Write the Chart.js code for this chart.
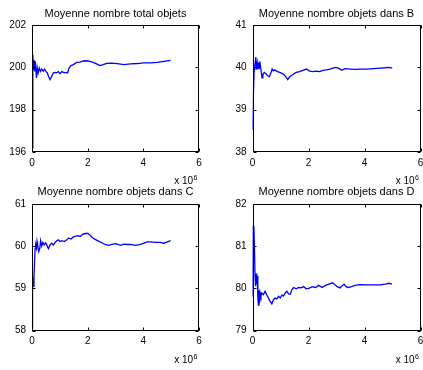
<!DOCTYPE html>
<html>
<head>
<meta charset="utf-8">
<script src="https://cdn.jsdelivr.net/npm/chart.js@4.4.0/dist/chart.umd.min.js"></script>
<style>
  html, body { margin: 0; padding: 0; background: #fff; }
  #wrap { position: relative; width: 423px; height: 370px; overflow: hidden; }
  canvas { position: absolute; }
</style>
</head>
<body>
<div id="wrap">
  <canvas id="c0" width="211" height="185" style="left:0;top:0"></canvas>
  <canvas id="c1" width="212" height="185" style="left:211px;top:0"></canvas>
  <canvas id="c2" width="211" height="191" style="left:0;top:179px"></canvas>
  <canvas id="c3" width="212" height="191" style="left:211px;top:179px"></canvas>
</div>
<script>
// x values are in units of 10^6
const xTicks = [0, 2, 4, 6];
const xMultiplier = 'x 10';
const xExponent = '6';

const titles = [
  'Moyenne nombre total objets',
  'Moyenne nombre objets dans B',
  'Moyenne nombre objets dans C',
  'Moyenne nombre objets dans D'
];

const totalX = [0, 0.03, 0.05, 0.07, 0.1, 0.12, 0.16, 0.19, 0.22, 0.26, 0.3, 0.35, 0.4, 0.45, 0.5, 0.55, 0.59, 0.65, 0.71, 0.77, 0.83, 0.89, 0.95, 1.01, 1.07, 1.13, 1.19, 1.25, 1.28, 1.33, 1.4, 1.49, 1.6, 1.72, 1.84, 1.96, 2.08, 2.2, 2.32, 2.44, 2.56, 2.68, 2.86, 3.06, 3.3, 3.54, 3.78, 4.02, 4.26, 4.5, 4.74, 4.98];
const totalY = [196.2, 200.6, 199.9, 200.36, 199.8, 200.28, 199.5, 199.97, 199.74, 199.97, 199.81, 199.92, 199.81, 199.92, 199.81, 199.74, 199.58, 199.42, 199.58, 199.74, 199.76, 199.74, 199.8, 199.7, 199.8, 199.76, 199.74, 199.76, 199.74, 199.97, 200.08, 200.13, 200.23, 200.25, 200.3, 200.31, 200.28, 200.23, 200.16, 200.08, 200.13, 200.19, 200.2, 200.18, 200.13, 200.16, 200.18, 200.21, 200.21, 200.23, 200.28, 200.33];

const bX = [0, 0.04, 0.06, 0.08, 0.12, 0.14, 0.17, 0.19, 0.22, 0.24, 0.26, 0.3, 0.34, 0.37, 0.42, 0.48, 0.54, 0.6, 0.66, 0.7, 0.74, 0.78, 0.9, 1.02, 1.12, 1.2, 1.26, 1.32, 1.44, 1.56, 1.68, 1.8, 1.92, 2.04, 2.16, 2.28, 2.4, 2.52, 2.64, 2.77, 2.95, 3.07, 3.19, 3.31, 3.49, 3.67, 3.85, 4.09, 4.33, 4.57, 4.75, 4.87, 4.99];
const bY = [38.53, 39.55, 39.95, 40.02, 40.24, 39.95, 40.1, 39.95, 40.06, 39.98, 40.14, 39.95, 39.75, 39.83, 39.88, 39.85, 39.8, 39.78, 39.87, 39.96, 39.92, 39.94, 39.9, 39.87, 39.83, 39.77, 39.71, 39.77, 39.83, 39.88, 39.9, 39.93, 39.96, 39.91, 39.9, 39.91, 39.9, 39.93, 39.94, 39.96, 40.0, 39.98, 39.93, 39.97, 39.96, 39.95, 39.96, 39.96, 39.97, 39.98, 39.99, 40.0, 39.98];

const cX = [0, 0.01, 0.03, 0.05, 0.07, 0.11, 0.13, 0.16, 0.18, 0.2, 0.24, 0.28, 0.31, 0.35, 0.39, 0.44, 0.49, 0.53, 0.59, 0.65, 0.71, 0.77, 0.83, 0.89, 0.95, 1.01, 1.07, 1.16, 1.25, 1.31, 1.41, 1.49, 1.58, 1.65, 1.73, 1.82, 1.91, 2.01, 2.09, 2.17, 2.27, 2.39, 2.51, 2.63, 2.75, 2.87, 3.01, 3.18, 3.3, 3.42, 3.54, 3.72, 3.9, 4.02, 4.14, 4.26, 4.44, 4.62, 4.74, 4.86, 4.98];
const cY = [58.06, 59.24, 59.27, 59.05, 59.24, 59.95, 60.03, 59.95, 60.11, 60.03, 59.87, 59.95, 60.13, 60.0, 60.09, 60.03, 60.08, 60.03, 59.94, 60.03, 60.07, 60.03, 60.09, 60.13, 60.15, 60.11, 60.13, 60.11, 60.15, 60.19, 60.17, 60.22, 60.24, 60.25, 60.23, 60.28, 60.3, 60.3, 60.26, 60.2, 60.16, 60.12, 60.08, 60.04, 60.02, 60.04, 60.06, 60.02, 60.05, 60.04, 60.04, 60.02, 60.04, 60.07, 60.1, 60.1, 60.09, 60.09, 60.07, 60.1, 60.13];

const dX = [0, 0.02, 0.05, 0.07, 0.09, 0.11, 0.13, 0.15, 0.17, 0.19, 0.21, 0.23, 0.25, 0.27, 0.3, 0.33, 0.39, 0.45, 0.51, 0.57, 0.63, 0.69, 0.75, 0.81, 0.87, 0.93, 0.99, 1.05, 1.11, 1.17, 1.23, 1.29, 1.35, 1.41, 1.47, 1.56, 1.65, 1.74, 1.83, 1.91, 2.01, 2.13, 2.25, 2.37, 2.49, 2.61, 2.73, 2.86, 2.95, 3.03, 3.13, 3.22, 3.27, 3.34, 3.42, 3.54, 3.66, 3.84, 4.08, 4.32, 4.56, 4.74, 4.86, 4.98];
const dY = [79.8, 81.47, 81.45, 80.95, 80.3, 80.05, 80.35, 80.1, 80.3, 79.8, 79.6, 79.95, 79.65, 79.9, 79.81, 79.89, 79.85, 79.93, 79.84, 79.77, 79.69, 79.63, 79.73, 79.77, 79.75, 79.81, 79.77, 79.84, 79.82, 79.89, 79.93, 79.87, 79.86, 79.97, 80.02, 79.99, 80.02, 80.01, 80.04, 79.99, 80.0, 80.04, 80.02, 80.07, 80.02, 80.07, 80.1, 80.13, 80.08, 80.04, 80.01, 80.07, 80.1, 80.04, 80.02, 80.04, 80.07, 80.09, 80.08, 80.08, 80.08, 80.1, 80.12, 80.1];

const yRanges = [[196, 202, 2], [38, 41, 1], [58, 61, 1], [79, 82, 1]];

const FONT = '"Liberation Sans", Arial, Helvetica, sans-serif';

// MATLAB style box: frame on all four sides, inward ticks, x 10^6 note
const boxPlugin = {
  id: 'matlabBox',
  afterDraw(chart) {
    const { ctx, chartArea: a, scales: { x, y } } = chart;
    const L = Math.round(a.left) + 0.5, R = Math.round(a.right) - 0.5;
    const T = Math.round(a.top) + 0.5, B = Math.round(a.bottom) - 0.5;
    ctx.save();
    ctx.strokeStyle = '#000';
    ctx.lineWidth = 1;
    ctx.strokeRect(L, T, R - L, B - T);
    ctx.beginPath();
    x.ticks.forEach(t => {
      const px = Math.round(x.getPixelForValue(t.value)) + 0.5;
      ctx.moveTo(px, T); ctx.lineTo(px, T + 3);
      ctx.moveTo(px, B); ctx.lineTo(px, B - 3);
    });
    y.ticks.forEach(t => {
      const py = Math.round(y.getPixelForValue(t.value)) + 0.5;
      ctx.moveTo(L, py); ctx.lineTo(L + 3, py);
      ctx.moveTo(R, py); ctx.lineTo(R - 3, py);
    });
    ctx.stroke();

    ctx.fillStyle = '#000';
    ctx.textAlign = 'right';
    ctx.textBaseline = 'alphabetic';
    ctx.font = '7px ' + FONT;
    const ew = ctx.measureText(xExponent).width;
    ctx.fillText(xExponent, a.right - 1.5, a.bottom + 28);
    ctx.font = '10px ' + FONT;
    ctx.fillText(xMultiplier, a.right - 2 - ew, a.bottom + 32);
    ctx.restore();
  }
};

function makeChart(id, idx, xs, ys, box, titleMid) {
  const canvas = document.getElementById(id);
  const w = canvas.width, h = canvas.height;
  const [yMin, yMax, yStep] = yRanges[idx];
  const lineH = 11 * 1.2;
  const padTop = titleMid - lineH / 2;
  const padBottom = box.t - padTop - lineH;
  return new Chart(canvas.getContext('2d'), {
    type: 'line',
    data: {
      datasets: [{
        data: xs.map((v, i) => ({ x: v, y: ys[i] })),
        borderColor: '#0000ff',
        borderWidth: 1.3,
        pointRadius: 0,
        tension: 0,
        fill: false
      }]
    },
    options: {
      responsive: false,
      animation: false,
      events: [],
      layout: { padding: { left: 0, right: w - box.r, top: 0, bottom: 0 } },
      plugins: {
        legend: { display: false },
        tooltip: { enabled: false },
        title: {
          display: true,
          text: titles[idx],
          fullSize: false,
          color: '#000',
          font: { family: FONT, size: 11, weight: 'normal' },
          padding: { top: padTop, bottom: padBottom }
        }
      },
      scales: {
        x: {
          type: 'linear',
          min: xTicks[0],
          max: xTicks[xTicks.length - 1],
          afterBuildTicks: s => { s.ticks = xTicks.map(v => ({ value: v })); },
          grid: { display: false, drawTicks: false },
          border: { display: false },
          ticks: { color: '#000', font: { family: FONT, size: 10 }, padding: 5, maxRotation: 0 },
          afterFit: s => { s.height = h - box.b; s.paddingLeft = 0; s.paddingRight = 0; }
        },
        y: {
          type: 'linear',
          min: yMin,
          max: yMax,
          ticks: { stepSize: yStep, color: '#000', font: { family: FONT, size: 10 }, padding: 6 },
          grid: { display: false, drawTicks: false },
          border: { display: false },
          afterFit: s => { s.width = box.l; s.paddingTop = 0; s.paddingBottom = 0; }
        }
      }
    },
    plugins: [boxPlugin]
  });
}

makeChart('c0', 0, totalX, totalY, { l: 32, r: 199, t: 25, b: 152 }, 14);
makeChart('c1', 1, bX, bY, { l: 41.5, r: 209.5, t: 25, b: 152 }, 14);
makeChart('c2', 2, cX, cY, { l: 32, r: 199, t: 25, b: 151.5 }, 12.5);
makeChart('c3', 3, dX, dY, { l: 41.5, r: 209.5, t: 25, b: 151.5 }, 12.5);
</script>
</body>
</html>
